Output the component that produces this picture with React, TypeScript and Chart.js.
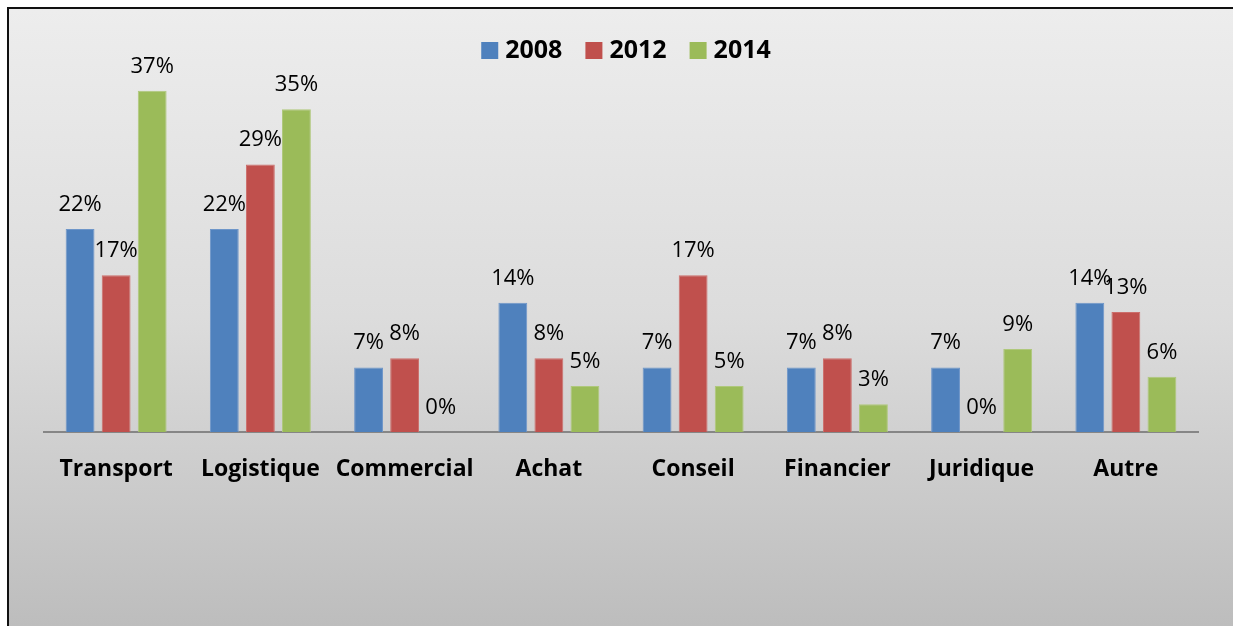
import React, { useEffect, useRef } from 'react';
import { Chart, registerables } from 'chart.js';

Chart.register(...registerables);

const categories = ['Transport', 'Logistique', 'Commercial', 'Achat', 'Conseil', 'Financier', 'Juridique', 'Autre'];
const seriesNames = ['2008', '2012', '2014'];
const values2008 = [22, 22, 7, 14, 7, 7, 7, 14];
const values2012 = [17, 29, 8, 8, 17, 8, 0, 13];
const values2014 = [37, 35, 0, 5, 5, 3, 9, 6];
const seriesValues = [values2008, values2012, values2014];
const fillColors = ['#4F81BD', '#C0504D', '#9BBB59'];
const edgeColors = ['#6E96C9', '#CC6E6B', '#AFC87B'];

const FONT = '"Open Sans", "DejaVu Sans", sans-serif';

const dataLabelPlugin = {
  id: 'dataLabels',
  afterDatasetsDraw(chart: any) {
    const ctx = chart.ctx;
    ctx.save();
    ctx.font = `22px ${FONT}`;
    ctx.fillStyle = '#000';
    ctx.textAlign = 'center';
    ctx.textBaseline = 'alphabetic';
    chart.data.datasets.forEach((ds: any, di: number) => {
      const meta = chart.getDatasetMeta(di);
      meta.data.forEach((bar: any, i: number) => {
        const v = ds.data[i];
        ctx.fillText(`${v}%`, bar.x, bar.y - 18);
      });
    });
    ctx.restore();
  },
};

const legendPlugin = {
  id: 'customLegend',
  afterDraw(chart: any) {
    const ctx = chart.ctx;
    const { left, right } = chart.chartArea;
    ctx.save();
    ctx.font = `bold 25px ${FONT}`;
    ctx.textBaseline = 'alphabetic';
    ctx.textAlign = 'left';
    const box = 17;
    const gapBoxText = 7;
    const gapItems = 23;
    const widths = chart.data.datasets.map((ds: any) => ctx.measureText(ds.label).width);
    const total = widths.reduce((a: number, w: number) => a + box + gapBoxText + w, 0) + gapItems * (widths.length - 1);
    let x = (left + right) / 2 + 5 - total / 2;
    const boxTop = 42;
    const baseline = 58;
    chart.data.datasets.forEach((ds: any, di: number) => {
      ctx.fillStyle = ds.backgroundColor;
      ctx.fillRect(x, boxTop, box, box);
      x += box + gapBoxText;
      ctx.fillStyle = '#000';
      ctx.fillText(ds.label, x, baseline);
      x += widths[di] + gapItems;
    });
    ctx.restore();
  },
};

function App() {
  const canvasRef = useRef<HTMLCanvasElement | null>(null);

  useEffect(() => {
    if (!canvasRef.current) return;
    const chart = new Chart(canvasRef.current, {
      type: 'bar',
      data: {
        labels: categories,
        datasets: seriesNames.map((name, i) => ({
          label: name,
          data: seriesValues[i],
          backgroundColor: fillColors[i],
          borderColor: edgeColors[i],
          borderWidth: 1,
          categoryPercentage: 0.75,
          barPercentage: 0.8,
        })),
      },
      options: {
        animation: false,
        responsive: false,
        maintainAspectRatio: false,
        layout: { padding: { left: 44, right: 35, top: 63, bottom: 0 } },
        plugins: {
          legend: { display: false },
          tooltip: { enabled: false },
          title: { display: false },
        },
        scales: {
          x: {
            grid: { display: false, drawTicks: false, tickLength: 0 },
            border: { display: true, color: '#868686', width: 2 },
            ticks: {
              color: '#000',
              padding: 24,
              font: { family: FONT, size: 23, weight: 'bold' },
              maxRotation: 0,
              autoSkip: false,
            },
            afterFit: (scale: any) => {
              scale.height = 194;
            },
          },
          y: {
            display: false,
            min: 0,
            max: 40,
          },
        },
      },
      plugins: [dataLabelPlugin, legendPlugin],
    });
    return () => chart.destroy();
  }, []);

  return (
    <div>
      <div
        style={{
          position: 'absolute',
          left: 7,
          top: 7,
          width: 1226,
          height: 619,
          boxSizing: 'border-box',
          borderTop: '2px solid #111',
          borderLeft: '2px solid #111',
          background: 'linear-gradient(to bottom, #ededed 0%, #dcdcdc 50%, #bdbdbd 100%)',
        }}
      />
      <div style={{ position: 'absolute', left: 0, top: 0, width: 1233, height: 626 }}>
        <canvas ref={canvasRef} width={1233} height={626} />
      </div>
    </div>
  );
}

export default App;
